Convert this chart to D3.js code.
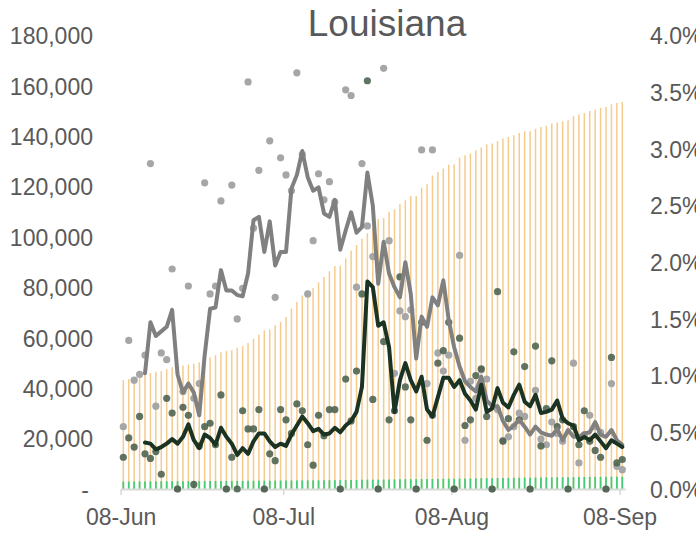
<!DOCTYPE html>
<html>
<head>
<meta charset="utf-8">
<script src="https://cdn.jsdelivr.net/npm/d3@7"></script>
<style>
  html, body { margin: 0; padding: 0; background: #ffffff; }
  svg { display: block; font-family: "Liberation Sans", Arial, sans-serif; }
</style>
</head>
<body>
<svg id="chart" width="696" height="533"></svg>
<script>
// ---- Data ----
const title = "Louisiana";
const startDate = new Date(2020, 5, 8);   // 08-Jun
const nDays = 93;                          // 08-Jun .. 08-Sep

// cumulative cases (left axis, orange bars)
const cumCases = [43200,43600,44000,44700,45400,46000,46500,46800,47500,48300,
  48600,49000,49400,49700,50200,51100,52300,53100,54300,54800,
  55100,56100,56700,57900,59600,61300,63000,63300,65000,66300,
  68300,71600,74200,76800,78500,79800,82000,84100,86400,88500,
  88600,91500,94600,96800,99300,101500,103800,107100,107500,110000,
  111000,113100,114600,116300,116300,119500,120900,124400,125800,127200,
  128700,128900,131500,132400,133100,134400,135500,136800,137100,138100,
  139100,139700,140400,141300,142000,142100,143000,143700,144100,145000,
  145400,145900,146300,147900,148600,149200,150000,150600,151300,151600,
  152700,153200,153600];

// cumulative deaths (left axis, green bars)
const cumDeaths = [2950,2970,2990,3000,3010,3030,3040,3060,3080,3100,
  3100,3120,3140,3140,3150,3170,3190,3200,3220,3220,
  3230,3230,3250,3270,3280,3300,3300,3310,3320,3340,
  3350,3370,3390,3410,3430,3440,3460,3480,3500,3520,
  3520,3550,3570,3600,3640,3700,3720,3720,3760,3780,
  3800,3860,3880,3900,3900,3940,3960,3990,4020,4050,
  4090,4090,4140,4160,4190,4230,4270,4300,4300,4360,
  4380,4400,4450,4480,4510,4510,4560,4580,4610,4640,
  4670,4700,4700,4730,4750,4780,4800,4820,4830,4830,
  4880,4890,4900];

// daily case growth % (right axis, grey dots)
const casePct = [0.55,1.31,0.96,1.01,1.18,2.87,0.73,1.20,1.14,1.94,
  0,0.86,1.79,0.80,0.93,2.70,1.72,1.79,2.54,0,
  2.68,1.50,1.77,3.59,2.30,2.81,0,3.07,1.69,2.92,
  2.77,2.63,3.67,2.95,1.72,2.19,2.78,2.55,2.71,2.53,
  0,3.52,3.47,1.78,2.87,2.32,2.05,0,3.71,2.19,
  1.02,1.57,1.52,1.58,0,2.99,0.93,2.99,1.20,1.04,
  1.18,0,2.06,0.43,0.95,0.80,1.05,0.97,0,0.70,
  0.43,0.46,0.55,0.67,0.64,0,0.87,0.44,0.39,0.59,
  0.49,0.42,0,1.11,0.23,0.48,0.65,0.55,0.50,0,
  0.93,0.20,0.17];

// daily death growth % (right axis, dark green dots)
const deathPct = [0.28,0.45,0.37,0.64,0.31,0.27,0.33,0.13,0.80,0.67,
  0,0.72,0.65,0.04,0.38,0.55,0.58,0.39,0.83,0,
  0.28,0,0.69,0.53,0.53,0.70,0,0.31,0.25,0.70,
  0.61,0.49,0.75,0.69,0.39,0.21,0.65,0.47,0.70,0.70,
  0,0.97,0.60,1.04,1.72,3.60,0.79,0,1.30,0.61,
  0.69,1.87,0.90,0.61,0,1.47,0.43,0.65,1.11,1.22,
  1.47,0,1.33,0.56,0.61,1.00,1.06,0.64,0,1.74,
  0.42,0.62,1.21,0.61,1.08,0,1.26,0.38,0.71,1.13,
  0.55,0.61,0,0.55,0.39,0.69,0.42,0.34,0.28,0,
  1.16,0.23,0.26];

// smoothed case growth % (grey line)
const caseAvg = [null,null,null,null,1.02,1.47,1.35,1.39,1.43,1.58,
  1.01,0.85,0.93,0.85,0.65,1.18,1.59,1.60,1.93,1.75,
  1.75,1.71,1.70,1.90,2.37,2.40,2.09,2.36,1.97,2.09,
  2.09,2.65,2.77,2.98,2.75,2.63,2.66,2.43,2.40,2.55,
  2.11,2.28,2.44,2.26,2.31,2.79,2.50,1.81,2.18,1.90,
  1.78,1.69,2.00,1.72,1.15,1.52,1.43,1.69,1.62,1.84,
  1.49,1.25,1.08,0.95,0.90,0.86,0.99,0.78,0.73,0.73,
  0.60,0.52,0.56,0.61,0.55,0.48,0.55,0.50,0.48,0.47,
  0.53,0.43,0.52,0.46,0.46,0.49,0.50,0.59,0.48,0.46,
  0.52,0.43,0.39];

// smoothed death growth % (dark green line)
const deathAvg = [null,null,null,null,0.41,0.40,0.35,0.37,0.40,0.44,
  0.40,0.46,0.57,0.43,0.36,0.48,0.45,0.39,0.54,0.46,
  0.40,0.30,0.36,0.31,0.42,0.49,0.49,0.42,0.37,0.40,
  0.38,0.48,0.56,0.64,0.58,0.51,0.53,0.48,0.49,0.54,
  0.50,0.56,0.60,0.68,0.90,1.83,1.78,1.44,1.47,1.25,
  0.68,0.96,1.11,0.96,0.86,0.99,0.70,0.64,0.81,0.98,
  0.98,0.90,0.96,0.84,0.78,0.70,0.92,0.68,0.71,0.89,
  0.76,0.72,0.83,0.92,0.77,0.73,0.83,0.67,0.68,0.70,
  0.78,0.62,0.58,0.56,0.43,0.46,0.43,0.48,0.42,0.36,
  0.43,0.40,0.37];

const leftTicks = [0,20000,40000,60000,80000,100000,120000,140000,160000,180000];
const rightTicks = [0,0.5,1.0,1.5,2.0,2.5,3.0,3.5,4.0];
const xTickDates = [new Date(2020,5,8), new Date(2020,6,8), new Date(2020,7,8), new Date(2020,8,8)];

(function () {
  const dates = d3.range(nDays).map(i => d3.timeDay.offset(startDate, i));
  const svg = d3.select("#chart");
  const textColor = "#595959";
  const pLeft = 120.6, pRight = 625, pTop = 35.4, pBottom = 489;
  const fontFam = "Liberation Sans, Arial, sans-serif";

  const x = d3.scaleBand().domain(dates).range([pLeft, pRight]).padding(0);
  const xt = d3.scaleTime().domain([dates[0], d3.timeDay.offset(dates[nDays - 1], 1)]).range([pLeft, pRight]);
  const yL = d3.scaleLinear().domain([0, 180000]).range([pBottom, pTop]);
  const yR = d3.scaleLinear().domain([0, 4]).range([pBottom, pTop]);
  const cx = d => x(d) + x.bandwidth() / 2;

  // orange bars: cumulative cases
  svg.append("g").selectAll("line").data(dates).join("line")
    .attr("x1", d => cx(d)).attr("x2", d => cx(d))
    .attr("y1", yL(0)).attr("y2", (d, i) => yL(cumCases[i]))
    .attr("stroke", "#f5cb8e").attr("stroke-width", 1.5);

  // green bars: cumulative deaths
  svg.append("g").selectAll("line").data(dates).join("line")
    .attr("x1", d => cx(d)).attr("x2", d => cx(d))
    .attr("y1", yL(0)).attr("y2", (d, i) => yL(cumDeaths[i]))
    .attr("stroke", "#45cc74").attr("stroke-width", 1.8);

  // bottom axis
  const xAxis = svg.append("g").attr("transform", `translate(0,${pBottom})`)
    .call(d3.axisBottom(xt).tickValues(xTickDates).tickFormat(d3.timeFormat("%d-%b")).tickSize(6).tickSizeOuter(0));
  xAxis.select(".domain").attr("stroke", "#d9d9d9").attr("stroke-width", 2);
  xAxis.selectAll(".tick line").attr("stroke", "#d9d9d9").attr("stroke-width", 1.5);
  xAxis.selectAll(".tick text").attr("y", 36).attr("dy", null)
    .attr("fill", textColor).style("font-size", "23px").style("font-family", fontFam);

  // grey dots
  svg.append("g").selectAll("circle").data(dates).join("circle")
    .attr("cx", d => cx(d)).attr("cy", (d, i) => yR(casePct[i])).attr("r", 3.6)
    .attr("fill", "#a6a6a6");

  // dark green dots
  svg.append("g").selectAll("circle").data(dates).join("circle")
    .attr("cx", d => cx(d)).attr("cy", (d, i) => yR(deathPct[i])).attr("r", 3.6)
    .attr("fill", "#4b614e").attr("fill-opacity", 0.88);

  // lines
  const lineGen = arr => d3.line().defined((d, i) => arr[i] != null)
    .x(d => cx(d)).y((d, i) => yR(arr[i]));
  svg.append("path").datum(dates).attr("d", lineGen(caseAvg))
    .attr("fill", "none").attr("stroke", "#808080").attr("stroke-width", 4)
    .attr("stroke-linejoin", "round").attr("stroke-linecap", "round");
  svg.append("path").datum(dates).attr("d", lineGen(deathAvg))
    .attr("fill", "none").attr("stroke", "#1b3322").attr("stroke-width", 4)
    .attr("stroke-linejoin", "round").attr("stroke-linecap", "round");

  // left axis
  const yAxisL = svg.append("g").attr("transform", "translate(93,0)")
    .call(d3.axisLeft(yL).tickValues(leftTicks).tickSize(0).tickPadding(0)
      .tickFormat(d => d === 0 ? "-" : d3.format(",")(d)));
  yAxisL.select(".domain").remove();
  yAxisL.selectAll("text").attr("fill", textColor).attr("dy", "0.36em")
    .style("font-size", "23px").style("font-family", fontFam);
  yAxisL.selectAll(".tick text").filter(d => d === 0).attr("x", -4);

  // right axis (clipped at the right edge, as in the reference)
  const yAxisR = svg.append("g").attr("transform", "translate(650,0)")
    .call(d3.axisRight(yR).tickValues(rightTicks).tickSize(0).tickPadding(0)
      .tickFormat(d => d.toFixed(1) + "%"));
  yAxisR.select(".domain").remove();
  yAxisR.selectAll("text").attr("fill", textColor).attr("dy", "0.36em")
    .style("font-size", "23px").style("font-family", fontFam);

  // title
  svg.append("text").attr("x", 387).attr("y", 36).attr("text-anchor", "middle")
    .attr("fill", textColor).style("font-size", "37px").style("font-family", fontFam).text(title);
})();
</script>
</body>
</html>
